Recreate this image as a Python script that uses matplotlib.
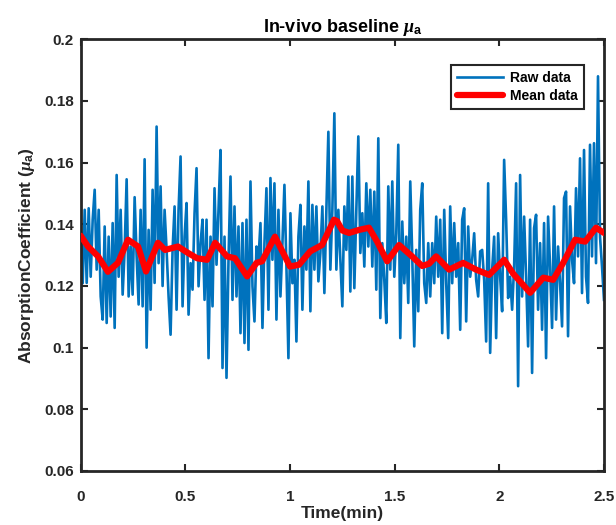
import numpy as np
import matplotlib
matplotlib.use("Agg")
import matplotlib.pyplot as plt

# ---- data ----
raw_values = [
    # 0.00 - 0.42 min
    0.1339, 0.1209, 0.1447, 0.1210, 0.1452, 0.1230, 0.1415, 0.1512, 0.1253, 0.1447,
    0.1166, 0.1091, 0.1393, 0.1080, 0.1360, 0.1101, 0.1404, 0.1064, 0.1560, 0.1230,
    0.1447, 0.1172, 0.1317, 0.1546, 0.1166, 0.1328, 0.1172, 0.1488, 0.1296, 0.1140,
    0.1447, 0.1134, 0.1611, 0.1000, 0.1382, 0.1123, 0.1512, 0.1210, 0.1717, 0.1274,
    0.1523, 0.1200, 0.1447, 0.1317,
    # 0.42 - 0.84 min
    0.1166, 0.1042, 0.1317, 0.1458, 0.1123, 0.1447, 0.1620, 0.1134, 0.1360, 0.1469,
    0.1107, 0.1274, 0.1188, 0.1436, 0.1582, 0.1199, 0.1339, 0.1415, 0.1155, 0.1415,
    0.0966, 0.1360, 0.1134, 0.1517, 0.1269, 0.1447, 0.1641, 0.0934, 0.1360, 0.0902,
    0.1285, 0.1555, 0.1155, 0.1458, 0.1166, 0.1393, 0.1047, 0.1404, 0.1015, 0.1415,
    0.0993, 0.1539,
    # 0.84 - 1.25 min
    0.1199, 0.1085, 0.1328, 0.1285, 0.1404, 0.1064, 0.1339, 0.1517, 0.1123, 0.1550,
    0.1285, 0.1533, 0.1091, 0.1447, 0.1166, 0.1339, 0.1528, 0.1263, 0.0966, 0.1436,
    0.1209, 0.1285, 0.1020, 0.1360, 0.1463, 0.1123, 0.1393, 0.1253, 0.1539, 0.1118,
    0.1463, 0.1253, 0.1458, 0.1215, 0.1307, 0.1458, 0.1177, 0.1447, 0.1700, 0.1253,
    0.1447, 0.1760, 0.1253,
    # 1.25 - 1.67 min
    0.1447, 0.1285, 0.1134, 0.1458, 0.1317, 0.1555, 0.1182, 0.1555, 0.1193, 0.1447,
    0.1685, 0.1307, 0.1436, 0.1263, 0.1533, 0.1328, 0.1512, 0.1263, 0.1506, 0.1188,
    0.1679, 0.1096, 0.1339, 0.1220, 0.1080, 0.1523, 0.1253, 0.1539, 0.1230, 0.1371,
    0.1658, 0.1031, 0.1409, 0.1209, 0.1360, 0.1145, 0.1539, 0.1296, 0.1004, 0.1317,
    0.1118, 0.1447, 0.1533, 0.1209,
    # 1.67 - 2.08 min
    0.1145, 0.1339, 0.1166, 0.1339, 0.1209, 0.1425, 0.1230, 0.1415, 0.1047, 0.1447,
    0.1209, 0.1031, 0.1458, 0.1209, 0.1404, 0.1230, 0.1339, 0.1058, 0.1415, 0.1452,
    0.1085, 0.1393, 0.1230, 0.1285, 0.1371, 0.1220, 0.1166, 0.1312, 0.1317, 0.1220,
    0.1020, 0.1533, 0.0983, 0.1253, 0.1360, 0.1031, 0.1371, 0.1230, 0.1118, 0.1609,
    0.1415, 0.1161, 0.1230, 0.1123,
    # 2.08 - 2.50 min
    0.1263, 0.1533, 0.0875, 0.1560, 0.1166, 0.1425, 0.1230, 0.1004, 0.1415, 0.0918,
    0.1388, 0.1431, 0.1123, 0.1339, 0.1058, 0.1404, 0.0966, 0.1425, 0.1263, 0.1064,
    0.1458, 0.1091, 0.1328, 0.1209, 0.1069, 0.1485, 0.1506, 0.1037, 0.1458, 0.1285,
    0.1209, 0.1517, 0.1296, 0.1614, 0.1177, 0.1641, 0.1230, 0.1145, 0.1658, 0.1296,
    0.1663, 0.1274, 0.1880, 0.1360, 0.1263, 0.1155,
]
raw_time = np.linspace(0.0, 2.5, len(raw_values))

mean_time = [0.000, 0.035, 0.083, 0.130, 0.178, 0.226, 0.274, 0.312, 0.369, 0.403,
             0.465, 0.513, 0.556, 0.604, 0.642, 0.699, 0.737, 0.795, 0.840, 0.866,
             0.928, 1.000, 1.043, 1.096, 1.153, 1.210, 1.225, 1.250, 1.282, 1.330,
             1.377, 1.416, 1.464, 1.521, 1.583, 1.631, 1.664, 1.698, 1.760, 1.827,
             1.889, 1.951, 2.023, 2.066, 2.147, 2.210, 2.257, 2.305, 2.362, 2.410,
             2.462, 2.500]
mean_values = [0.1363, 0.1328, 0.1296, 0.1246, 0.1275, 0.1350, 0.1328, 0.1247, 0.1340, 0.1317,
               0.1328, 0.1307, 0.1290, 0.1285, 0.1340, 0.1296, 0.1290, 0.1231, 0.1275, 0.1280,
               0.1360, 0.1263, 0.1269, 0.1312, 0.1333, 0.1415, 0.1410, 0.1380, 0.1372, 0.1382,
               0.1389, 0.1344, 0.1280, 0.1333, 0.1296, 0.1265, 0.1272, 0.1296, 0.1253, 0.1275,
               0.1253, 0.1236, 0.1285, 0.1240, 0.1178, 0.1227, 0.1220, 0.1275, 0.1350, 0.1344,
               0.1389, 0.1372]

xticks = [0, 0.5, 1, 1.5, 2, 2.5]
xtick_labels = ["0", "0.5", "1", "1.5", "2", "2.5"]
yticks = [0.06, 0.08, 0.1, 0.12, 0.14, 0.16, 0.18, 0.2]
ytick_labels = ["0.06", "0.08", "0.1", "0.12", "0.14", "0.16", "0.18", "0.2"]

# ---- styling ----
plt.rcParams['font.family'] = ['Liberation Sans', 'DejaVu Sans']
plt.rcParams['font.weight'] = 'bold'
plt.rcParams['mathtext.fontset'] = 'custom'
plt.rcParams['mathtext.it'] = 'Liberation Serif:italic:bold'
plt.rcParams['mathtext.rm'] = 'Liberation Sans:bold'

W, H = 616, 525
fig = plt.figure(figsize=(W / 100, H / 100), dpi=100)
left, right, top, bottom = 80.7, 604.0, 39.3, 471.0
ax = fig.add_axes([left / W, 1 - bottom / H, (right - left) / W, (bottom - top) / H])

raw_color = '#0072BD'
ax.plot(raw_time, raw_values, color=raw_color, lw=1.9, label='Raw data', zorder=2)
ax.plot(mean_time, mean_values, color='#FF0000', lw=4.5, label='Mean data',
        solid_joinstyle='round', solid_capstyle='round', zorder=3)

ax.set_xlim(0, 2.5)
ax.set_ylim(0.06, 0.2)
ax.set_xticks(xticks)
ax.set_xticklabels(xtick_labels)
ax.set_yticks(yticks)
ax.set_yticklabels(ytick_labels)

axis_color = '#262626'
for s in ax.spines.values():
    s.set_linewidth(2.0)
    s.set_color(axis_color)
ax.tick_params(direction='in', length=5, width=1.5, colors=axis_color,
               top=True, right=True, labelsize=11)
ax.tick_params(axis='y', pad=5)
ax.tick_params(axis='x', pad=14)
for lab in ax.get_xticklabels() + ax.get_yticklabels():
    lab.set_fontweight('bold')
    lab.set_color(axis_color)

ax.set_title(r'In-vivo baseline $\mu_{\mathrm{a}}$', fontsize=13, fontweight='bold',
             color='black', pad=5)
ax.set_xlabel('Time(min)', fontsize=12.5, fontweight='bold', color=axis_color, labelpad=1)
ax.set_ylabel(r'AbsorptionCoefficient ($\mu_{\mathrm{a}}$)', fontsize=12.5, fontweight='bold',
              color=axis_color, labelpad=5)

leg = ax.legend(loc='upper right', bbox_to_anchor=(584 / W, 1 - 64.7 / H),
                bbox_transform=fig.transFigure, borderaxespad=0, fancybox=False,
                framealpha=1, edgecolor='#262626', fontsize=10, handlelength=3.3,
                handletextpad=0.5, borderpad=0.45, labelspacing=0.3)
leg.get_frame().set_linewidth(1.5)
for t in leg.get_texts():
    t.set_fontweight('bold')

fig.savefig('out.png', dpi=100)
